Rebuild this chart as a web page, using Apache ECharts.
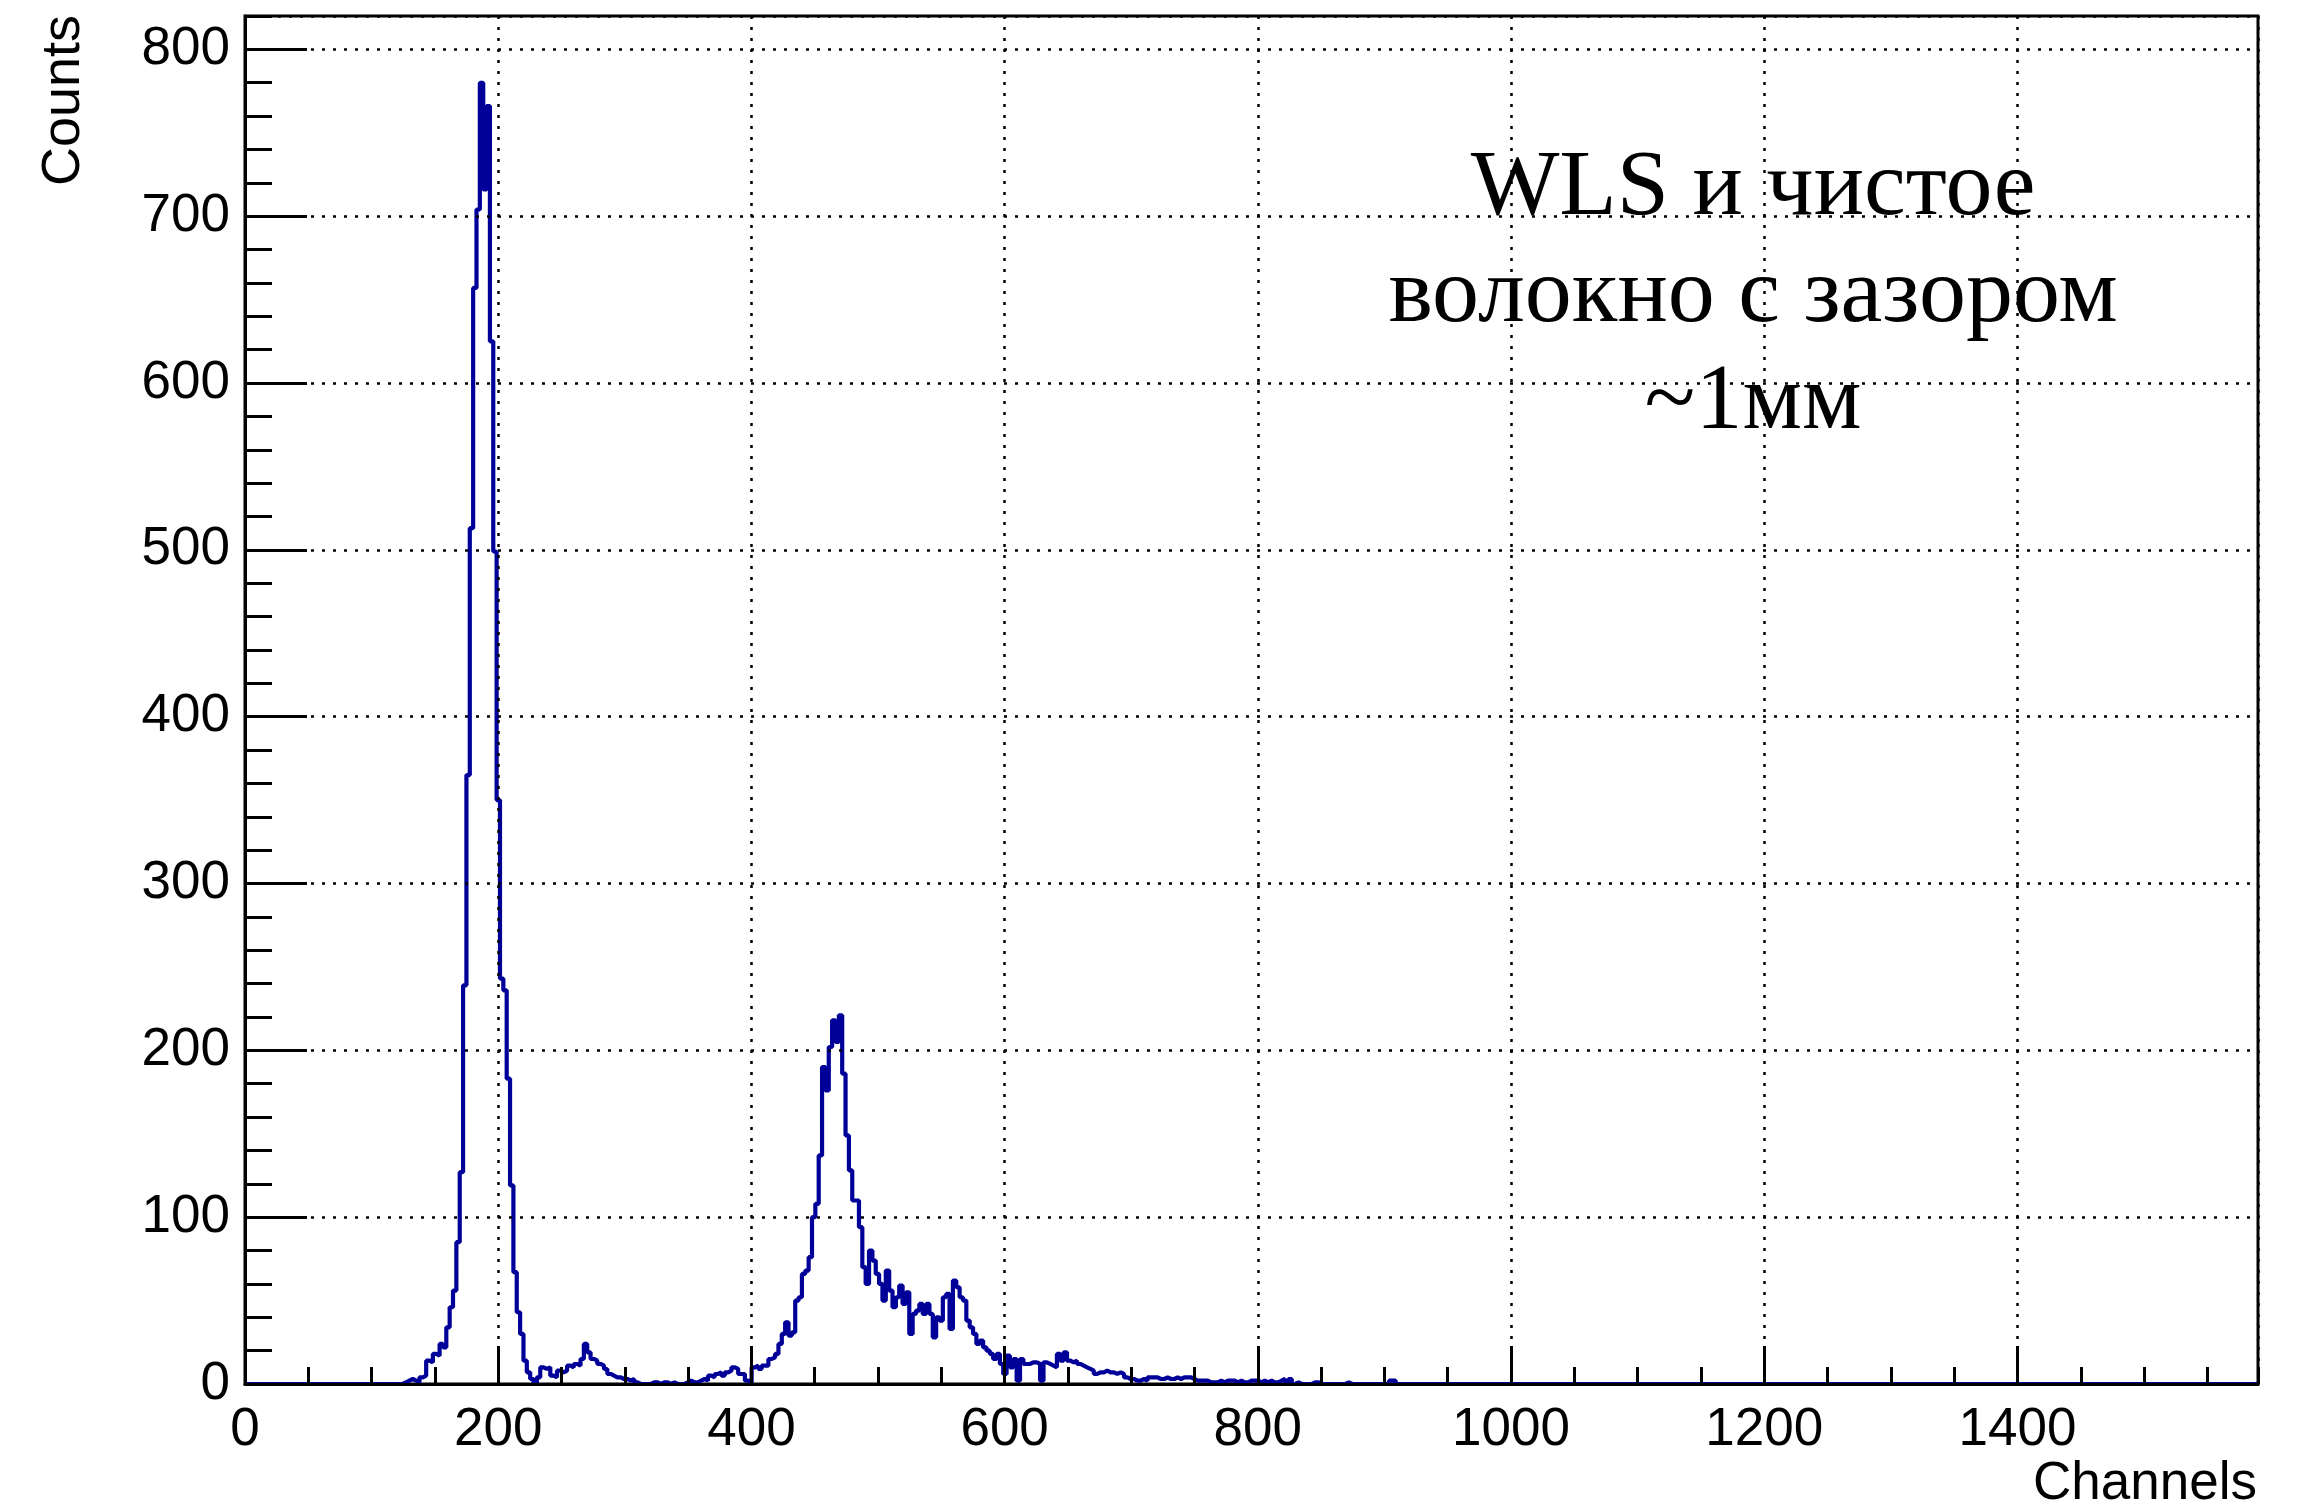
<!DOCTYPE html>
<html>
<head>
<meta charset="utf-8">
<script src="https://cdn.jsdelivr.net/npm/echarts@6/dist/echarts.min.js"></script>
<style>
html,body{margin:0;padding:0;background:#ffffff;}
#chart{width:2306px;height:1510px;}
</style>
</head>
<body>
<div id="chart"></div>
<script>
// ---------------- data ----------------
const xMin = 0, xMax = 1590;
const yMin = 0, yMax = 820;
const binWidth = 2.65;          // channels per histogram bin
const firstBinIndex = 46;       // index of first bin listed in counts (starts at 46*binWidth)
const counts = [
  0,1,2,3,2,1,4,5,14,13,            // 46-55
  18,17,24,22,34,46,56,85,127,239,  // 56-65
  365,513,657,704,780,716,766,625,499,350, // 66-75
  243,236,183,119,67,43,30,14,7,3,  // 76-85
  0,4,10,9,10,5,4,8,7,8,            // 86-95
  11,10,12,11,15,24,19,15,14,12,    // 96-105
  11,9,6,5,4,4,3,3,2,3,             // 106-115
  1,0,0,0,0,1,1,0,1,1,              // 116-125
  0,1,0,0,0,1,2,1,1,2,              // 126-135
  3,2,5,4,6,7,5,7,8,10,             // 136-145
  9,6,6,2,1,10,11,9,11,11,          // 146-155
  15,16,18,24,30,37,29,31,50,52,    // 156-165
  66,68,76,100,108,137,190,176,202,218, // 166-175
  205,221,186,149,128,110,110,94,70,60, // 176-185
  80,74,66,60,50,68,56,46,52,59,    // 186-195
  48,55,30,42,44,48,42,48,42,28,    // 196-205
  40,38,52,54,33,62,58,52,50,38,    // 206-215
  34,30,24,26,22,20,18,15,18,12,    // 216-225
  6,17,10,15,2,15,12,12,13,13,      // 226-235
  12,2,13,12,11,10,18,14,19,14,     // 236-245
  13,14,12,11,10,9,8,6,7,7,         // 246-255
  8,7,7,6,7,6,4,3,3,2,              // 256-265
  2,3,2,4,4,4,3,3,4,3,              // 266-275
  3,4,3,4,4,4,3,2,2,2,              // 276-285
  2,1,1,1,2,1,2,2,2,1,              // 286-295
  2,1,1,2,2,2,1,2,1,2,              // 296-305
  1,1,2,3,1,3,0,1,0,0,              // 306-315
  0,0,1,1,0,0,0,0,0,0,              // 316-325
  0,0,1,0,0,0,0,0,0,0,              // 326-335
  0,0,0,0,0,2,2,0,0                 // 336-344
];
const xMajorStep = 200, xMinorStep = 50;
const yMajorStep = 100, yMinorStep = 20;
const xTitle = 'Channels';
const yTitle = 'Counts';
const noteLines = ['WLS и чистое', 'волокно с зазором', '~1мм'];

// ---------------- build histogram outline ----------------
const pts = [[xMin, 0]];
pts.push([firstBinIndex * binWidth, 0]);
counts.forEach(function (v, k) {
  const lo = (firstBinIndex + k) * binWidth;
  const hi = lo + binWidth;
  pts.push([lo, v], [hi, v]);
});
pts.push([(firstBinIndex + counts.length) * binWidth, 0]);
pts.push([xMax, 0]);

const sans = '"Liberation Sans", Arial, Helvetica, sans-serif';
const serif = '"Liberation Serif", "Times New Roman", serif';

const chart = echarts.init(document.getElementById('chart'), null, {renderer: 'canvas'});
const gridLine = {show: true, lineStyle: {color: '#000', width: 2.5, type: [3, 8]}};

chart.setOption({
  animation: false,
  backgroundColor: '#ffffff',
  grid: {
    left: 245, right: 48, top: 16, bottom: 126,
    containLabel: false, outerBoundsMode: 'none',
    show: true, borderColor: '#000', borderWidth: 3, backgroundColor: '#ffffff'
  },
  xAxis: [
    {
      type: 'value', min: xMin, max: xMax, interval: xMajorStep,
      position: 'bottom', z: 3,
      axisLine: {show: true, onZero: false, lineStyle: {color: '#000', width: 3}},
      axisTick: {show: true, inside: true, length: 38, lineStyle: {color: '#000', width: 3}},
      minorTick: {show: false},
      splitLine: gridLine,
      axisLabel: {
        show: true, margin: 20, color: '#000', fontSize: 53, fontFamily: sans,
        showMaxLabel: false,
        formatter: function (v) { return (v % xMajorStep === 0) ? String(v) : ''; }
      }
    },
    {
      type: 'value', min: xMin, max: xMax, interval: xMinorStep,
      position: 'bottom', z: 3,
      axisLine: {show: false, onZero: false},
      axisTick: {show: true, inside: true, length: 17, lineStyle: {color: '#000', width: 3}},
      splitLine: {show: false},
      axisLabel: {show: false}
    }
  ],
  yAxis: [
    {
      type: 'value', min: yMin, max: yMax, interval: yMajorStep,
      position: 'left', z: 3,
      axisLine: {show: true, onZero: false, lineStyle: {color: '#000', width: 3}},
      axisTick: {show: true, inside: true, length: 62, lineStyle: {color: '#000', width: 3}},
      splitLine: gridLine,
      axisLabel: {
        show: true, margin: 15, color: '#000', fontSize: 53, fontFamily: sans,
        showMaxLabel: false,
        formatter: function (v) { return (v % yMajorStep === 0) ? String(v) : ''; }
      }
    },
    {
      type: 'value', min: yMin, max: yMax, interval: yMinorStep,
      position: 'left', z: 3,
      axisLine: {show: false, onZero: false},
      axisTick: {show: true, inside: true, length: 27, lineStyle: {color: '#000', width: 3}},
      splitLine: {show: false},
      axisLabel: {show: false}
    }
  ],
  series: [{
    type: 'line',
    xAxisIndex: 0, yAxisIndex: 0,
    data: pts,
    showSymbol: false, symbol: 'none',
    z: 1,
    lineStyle: {color: '#000099', width: 4.2},
    silent: true
  }],
  graphic: [
    {type: 'text', x: 64, y: 15, rotation: Math.PI / 2, z: 10,
     style: {text: yTitle, font: '54px ' + sans, fill: '#000', align: 'right', verticalAlign: 'middle', textAlign: 'right', textVerticalAlign: 'middle'}},
    {type: 'text', x: 2257, y: 1484, z: 10,
     style: {text: xTitle, font: '53px ' + sans, fill: '#000', align: 'right', verticalAlign: 'middle', textAlign: 'right', textVerticalAlign: 'middle'}},
    {type: 'text', x: 1753, y: 189, z: 10,
     style: {text: noteLines[0], font: '94px ' + serif, fill: '#000', align: 'center', verticalAlign: 'middle', textAlign: 'center', textVerticalAlign: 'middle'}},
    {type: 'text', x: 1753, y: 296, z: 10,
     style: {text: noteLines[1], font: '94px ' + serif, fill: '#000', align: 'center', verticalAlign: 'middle', textAlign: 'center', textVerticalAlign: 'middle'}},
    {type: 'text', x: 1753, y: 403, z: 10,
     style: {text: noteLines[2], font: '94px ' + serif, fill: '#000', align: 'center', verticalAlign: 'middle', textAlign: 'center', textVerticalAlign: 'middle'}}
  ]
});
</script>
</body>
</html>
